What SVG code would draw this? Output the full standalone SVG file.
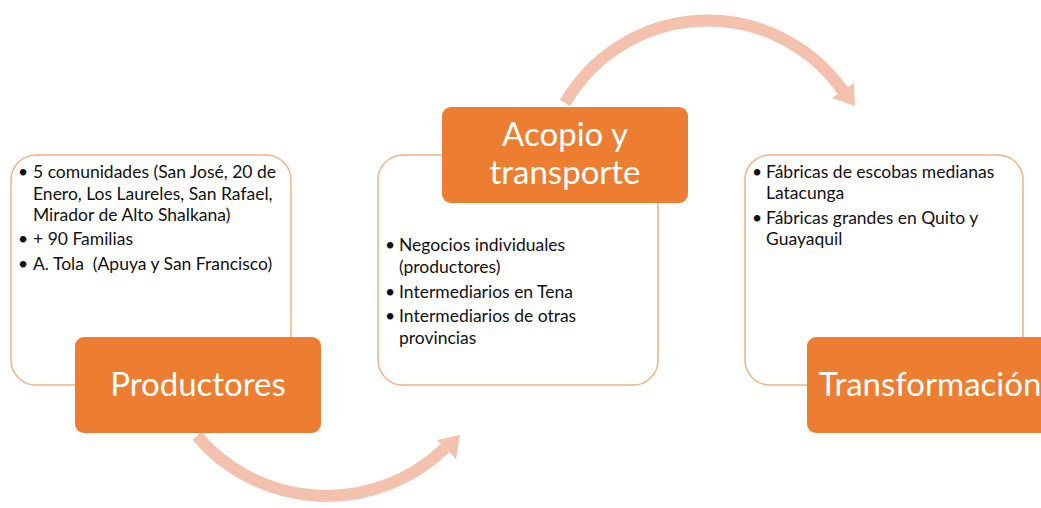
<svg xmlns="http://www.w3.org/2000/svg" width="1041" height="508" viewBox="0 0 1041 508">
<style>
.bg{fill:#ffffff}
.arc{fill:none;stroke:#F4C1AE;stroke-width:12}
.head{fill:#F4C1AE}
.panel{fill:#ffffff;stroke:#F4B183;stroke-width:1.5}
.label{fill:#ED7D31}
.body{font-family:Lato,"Liberation Sans",sans-serif;font-size:17.5px;fill:#111111;white-space:pre}
.title{font-family:Lato,"Liberation Sans",sans-serif;font-size:33px;fill:#ffffff;text-anchor:middle}
</style>
<rect class="bg" x="0" y="0" width="1041" height="508"/>
<g id="connectors">
  <path class="arc" d="M 197 436 A 170 170 0 0 0 445 448"/>
  <polygon class="head" points="437,440 456,459 460,435"/>
  <path class="arc" d="M 565 103 A 165 165 0 0 1 843 91"/>
  <polygon class="head" points="832,98 854,83 855,106"/>
</g>
<g id="productores">
  <rect class="panel" x="11" y="155" width="280" height="230" rx="25"/>
  <text class="body" x="18" y="178">•</text>
  <text class="body" x="33" y="178">5 comunidades (San José, 20 de</text>
  <text class="body" x="33" y="200">Enero, Los Laureles, San Rafael,</text>
  <text class="body" x="33" y="221">Mirador de Alto Shalkana)</text>
  <text class="body" x="18" y="245">•</text>
  <text class="body" x="33" y="245">+ 90 Familias</text>
  <text class="body" x="18" y="270">•</text>
  <text class="body" x="33" y="270">A. Tola  (Apuya y San Francisco)</text>
  <rect class="label" x="75" y="337" width="246" height="96" rx="9"/>
  <text class="title" x="198" y="396">Productores</text>
</g>
<g id="acopio">
  <rect class="panel" x="378" y="155" width="280" height="230" rx="25"/>
  <text class="body" x="385" y="251">•</text>
  <text class="body" x="399" y="251">Negocios individuales</text>
  <text class="body" x="399" y="273">(productores)</text>
  <text class="body" x="385" y="298">•</text>
  <text class="body" x="399" y="298">Intermediarios en Tena</text>
  <text class="body" x="385" y="322">•</text>
  <text class="body" x="399" y="322">Intermediarios de otras</text>
  <text class="body" x="399" y="344">provincias</text>
  <rect class="label" x="442" y="107" width="246" height="96" rx="9"/>
  <text class="title" x="565" y="146">Acopio y</text>
  <text class="title" x="565" y="184">transporte</text>
</g>
<g id="transformacion">
  <rect class="panel" x="745" y="155" width="278" height="230" rx="25"/>
  <text class="body" x="752" y="178">•</text>
  <text class="body" x="766" y="178">Fábricas de escobas medianas</text>
  <text class="body" x="766" y="199">Latacunga</text>
  <text class="body" x="752" y="224">•</text>
  <text class="body" x="766" y="224">Fábricas grandes en Quito y</text>
  <text class="body" x="766" y="245">Guayaquil</text>
  <rect class="label" x="807" y="337" width="246" height="96" rx="9"/>
  <text class="title" x="930" y="396">Transformación</text>
</g>
</svg>
